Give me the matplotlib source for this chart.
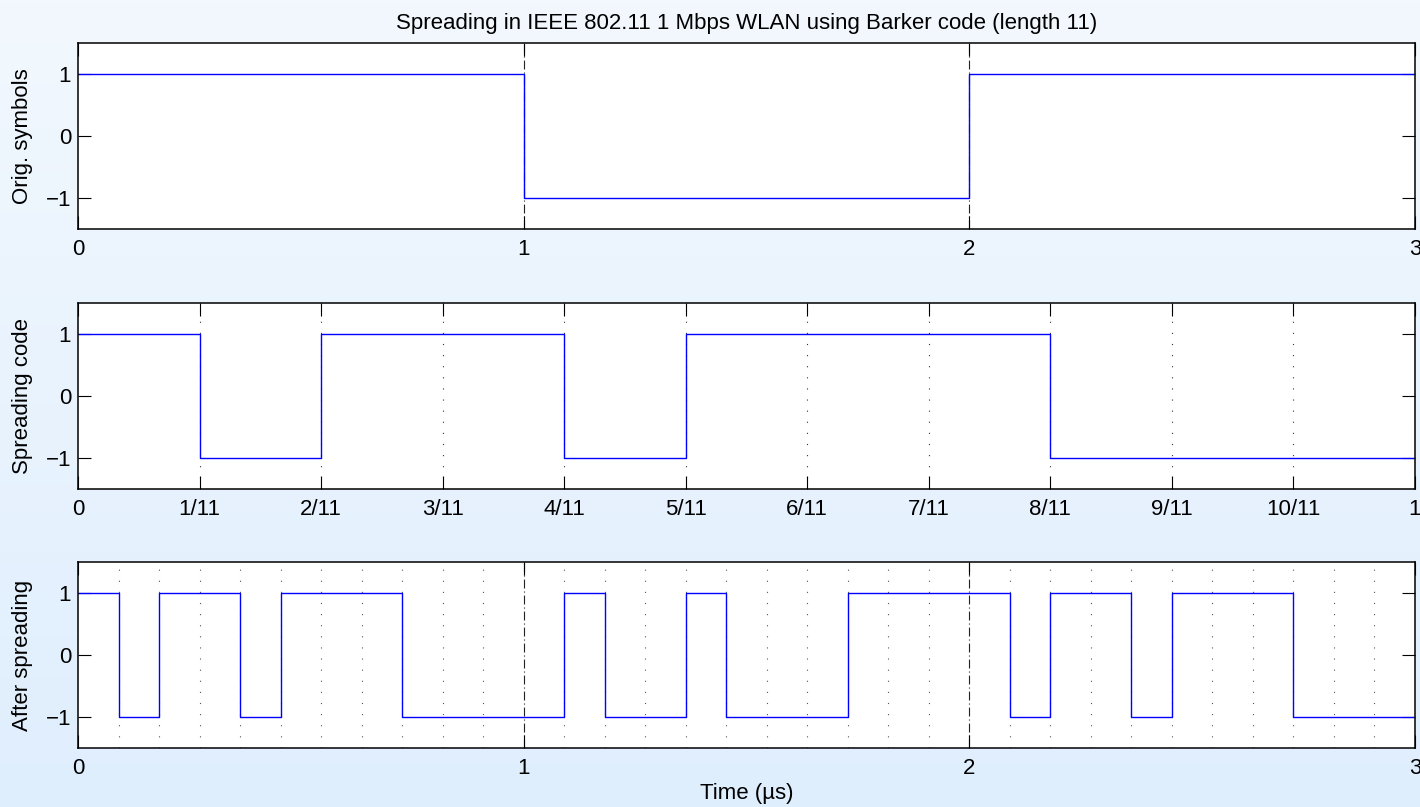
import numpy as np
import matplotlib
matplotlib.use("Agg")
import matplotlib.pyplot as plt
from matplotlib.colors import LinearSegmentedColormap

plt.rcParams['font.family'] = ['Liberation Sans', 'DejaVu Sans']

# ---- data ----
symbols = [1, -1, 1]
barker_code = [1, -1, 1, 1, -1, 1, 1, 1, -1, -1, -1]
after_spreading = [1, -1, 1, 1, -1, 1, 1, 1, -1, -1, -1,
                   -1, 1, -1, -1, 1, -1, -1, -1, 1, 1, 1,
                   1, -1, 1, 1, -1, 1, 1, 1, -1, -1, -1]
code_ticklabels = ['0', '1/11', '2/11', '3/11', '4/11', '5/11', '6/11',
                   '7/11', '8/11', '9/11', '10/11', '1']
sym_ticklabels = ['0', '1', '2', '3']
title = 'Spreading in IEEE 802.11 1 Mbps WLAN using Barker code (length 11)'
ylabels = ['Orig. symbols', 'Spreading code', 'After spreading']
xlabel = 'Time (\u00b5s)'

W, H = 1420, 807
fig = plt.figure(figsize=(W / 100, H / 100), dpi=100)

# background gradient
bg = fig.add_axes([0, 0, 1, 1], zorder=-10)
cmap = LinearSegmentedColormap.from_list('bg', ['#f2f8fe', '#dfeefd'])
bg.imshow(np.linspace(0, 1, 256).reshape(-1, 1), aspect='auto', cmap=cmap,
          extent=[0, 1, 0, 1])
bg.set_axis_off()

L0, R0 = 78, 1415
left = L0 / W
width = (R0 - L0) / W
AH = 186
tops = [43, 303, 562]
axes = [fig.add_axes([left, 1 - (t + AH) / H, width, AH / H]) for t in tops]

FS = 16
blue = (0, 0, 1)
dashdot = (0, (8, 2.7, 1, 2.7))
dotted = (0, (1, 9))


def style(ax):
    ax.set_facecolor('white')
    ax.set_ylim(-1.5, 1.5)
    ax.set_yticks([-1, 0, 1])
    ax.tick_params(direction='in', length=9.5, width=0.8, top=True, right=True,
                   labelsize=FS, colors='black')
    ax.tick_params(axis='x', pad=7)
    ax.tick_params(axis='y', pad=5)
    for s in ax.spines.values():
        s.set_linewidth(1.1)


# subplot 1
ax = axes[0]
n = len(symbols)
ax.step(np.arange(n + 1), symbols + [symbols[-1]], where='post', color=blue, lw=1)
ax.set_xlim(0, n)
ax.set_xticks(np.arange(n + 1))
ax.set_xticklabels(sym_ticklabels)
for k in range(1, n):
    ax.axvline(k, color='#222222', lw=0.8, ls=dashdot, zorder=0)
ax.set_ylabel(ylabels[0], fontsize=FS)
ax.set_title(title, fontsize=FS, pad=10)
style(ax)

# subplot 2
ax = axes[1]
m = len(barker_code)
xc = np.arange(m + 1) / m
ax.step(xc, barker_code + [barker_code[-1]], where='post', color=blue, lw=1)
ax.set_xlim(0, 1)
ax.set_xticks(xc)
ax.set_xticklabels(code_ticklabels)
for k in range(1, m):
    ax.axvline(k / m, color='#333333', lw=0.8, ls=dotted, zorder=0)
ax.set_ylabel(ylabels[1], fontsize=FS)
style(ax)

# subplot 3
ax = axes[2]
Ls = len(after_spreading)
xs = np.arange(Ls + 1) / m
ax.step(xs, after_spreading + [after_spreading[-1]], where='post', color=blue, lw=1)
ax.set_xlim(0, n)
ax.set_xticks(np.arange(n + 1))
ax.set_xticklabels(sym_ticklabels)
for k in range(1, Ls):
    if k % m == 0:
        ax.axvline(k / m, color='#222222', lw=0.8, ls=dashdot, zorder=0)
    else:
        ax.axvline(k / m, color='#555555', lw=0.8, ls=dotted, zorder=0)
ax.set_ylabel(ylabels[2], fontsize=FS)
ax.set_xlabel(xlabel, fontsize=FS, labelpad=3)
style(ax)

for ax in axes:
    ax.yaxis.set_label_coords(-0.034, 0.5)

fig.savefig('out.png', dpi=100)
